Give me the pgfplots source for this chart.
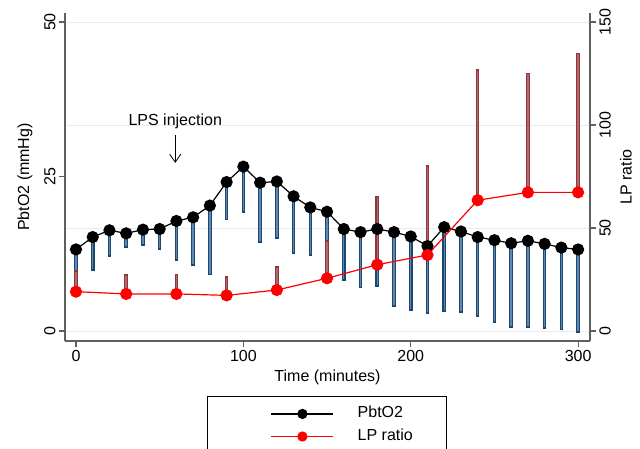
\documentclass[border=0pt]{standalone}
\usepackage{pgfplots}
\pgfplotsset{compat=1.18}
\usepackage{pgfplotstable}
\usepackage{fontspec}
\setmainfont{Liberation Sans}
\usetikzlibrary{arrows.meta}

\definecolor{navyd}{RGB}{26,71,111}
\definecolor{navyl}{RGB}{95,135,175}
\definecolor{maroond}{RGB}{144,53,59}
\definecolor{maroonl}{RGB}{178,105,108}
\definecolor{gridc}{RGB}{228,238,240}
\definecolor{axc}{RGB}{95,95,95}

\newcommand{\fs}{\fontsize{16}{19}\selectfont}

% PbtO2: mean and SD (drawn downwards)
\pgfplotstableread{
t m e
0 13.2 3.5
10 15.2 5.2
20 16.3 4.0
30 15.8 2.0
40 16.4 2.4
50 16.5 3.1
60 17.8 6.15
70 18.4 7.6
80 20.3 11.0
90 24.1 5.9
100 26.6 7.2
110 24.0 9.4
120 24.2 9.0
130 21.8 9.0
140 20.0 7.6
150 19.3 8.3
160 16.5 8.1
170 16.0 8.8
180 16.5 9.1
190 16.0 11.8
200 15.3 11.7
210 13.75 10.75
220 16.8 13.4
230 16.1 12.9
240 15.2 12.6
250 14.7 13.1
260 14.2 13.4
270 14.6 13.8
280 14.1 13.5
290 13.5 13.1
300 13.2 13.2
}\pbto

% LP ratio: mean and SD (drawn upwards)
\pgfplotstableread{
t m e
0 19.1 9.7
30 18.0 8.7
60 18.0 9.0
90 17.3 8.3
120 19.9 10.7
150 25.6 17.5
180 32.2 32.7
210 36.9 42.6
240 63.5 62.9
270 67.3 57.3
300 67.3 67.0
}\lpr

\pgfplotsset{
  base/.style={
    width=525pt, height=328pt, scale only axis,
    xmin=-6.56, xmax=307.1,
    tick align=outside, major tick length=6pt,
    axis line style={axc, line width=1.1pt},
    tick style={axc, line width=1.1pt},
    tick label style={font=\fs},
    label style={font=\fs},
    /pgf/number format/assume math mode=true,
  },
}

\begin{document}
\begin{tikzpicture}
\useasboundingbox (-65pt,-107pt) rectangle (575pt,341pt);

% right axis: LP ratio scale and grid
\begin{axis}[base,
  ymin=-4.854, ymax=154.38,
  axis y line*=right, axis x line=none,
  ytick={0,50,100,150},
  ymajorgrids, grid style={gridc, line width=0.9pt},
  yticklabel style={rotate=90, anchor=north},
  ylabel={LP ratio},
  ylabel style={at={(axis description cs:1.0686,0.5)}, anchor=center},
]
\addplot[draw=none] coordinates {(0,0)};
\end{axis}

% left axis: everything drawn here
\begin{axis}[base,
  ymin=-1.618, ymax=51.46,
  axis y line*=left, axis x line*=bottom,
  xtick={0,100,200,300}, ytick={0,25,50},
  yticklabel style={rotate=90, anchor=south},
  xlabel={Time (minutes)},
  xlabel style={at={(axis description cs:0.5,-0.1098)}, anchor=center},
  ylabel={PbtO2 (mmHg)},
  ylabel style={at={(axis description cs:-0.0762,0.5)}, anchor=center},
  legend style={at={(axis description cs:0.2705,-0.1677)}, anchor=north west,
    draw=black, line width=0.8pt, fill=white,
    inner xsep=0pt, inner ysep=7.5pt, column sep=21.7pt, row sep=2.6pt,
    font=\fs, nodes={text height=12pt, text depth=4pt}},
  legend image code/.code={
    \path[draw=none, fill=none] (0pt,-1pt) rectangle (1pt,1pt);
    \draw[mark repeat=2, mark phase=2, #1] plot coordinates {(64pt,0pt) (95pt,0pt) (126pt,0pt)};
  },
  every legend image post/.style={mark size=4.5pt},
]
% PbtO2 SD bars
\addplot[draw=none, forget plot, error bars/.cd, y dir=minus, y explicit, error mark=none,
  error bar style={navyd, line width=3.6pt, line cap=rect}]
  table[x=t, y=m, y error=e] {\pbto};
\addplot[draw=none, forget plot, error bars/.cd, y dir=minus, y explicit, error mark=none,
  error bar style={navyl, line width=1.4pt}]
  table[x=t, y=m, y error=e] {\pbto};
% LP ratio SD bars (right scale = 3 x left scale)
\addplot[draw=none, forget plot, error bars/.cd, y dir=plus, y explicit, error mark=none,
  error bar style={maroond, line width=3.6pt, line cap=rect}]
  table[x=t, y expr=\thisrow{m}/3, y error expr=\thisrow{e}/3] {\lpr};
\addplot[draw=none, forget plot, error bars/.cd, y dir=plus, y explicit, error mark=none,
  error bar style={maroonl, line width=1.4pt}]
  table[x=t, y expr=\thisrow{m}/3, y error expr=\thisrow{e}/3] {\lpr};

\addplot[black, line width=1.2pt, mark=*, mark size=5.5pt, mark options={fill=black}]
  table[x=t, y=m] {\pbto};
\addlegendentry{\makebox[87pt][l]{PbtO2}}
\addplot[red, line width=1.2pt, mark=*, mark size=5.5pt, mark options={fill=red, draw=red}]
  table[x=t, y expr=\thisrow{m}/3] {\lpr};
\addlegendentry{\makebox[87pt][l]{LP ratio}}

\node[font=\fs] at (axis cs:59.3,34.0) {LPS injection};
\draw[line width=0.8pt, -{Straight Barb[length=8pt,width=11pt]}] (axis cs:59.3,31.7) -- (axis cs:59.3,27.2);
\end{axis}
\end{tikzpicture}
\end{document}
